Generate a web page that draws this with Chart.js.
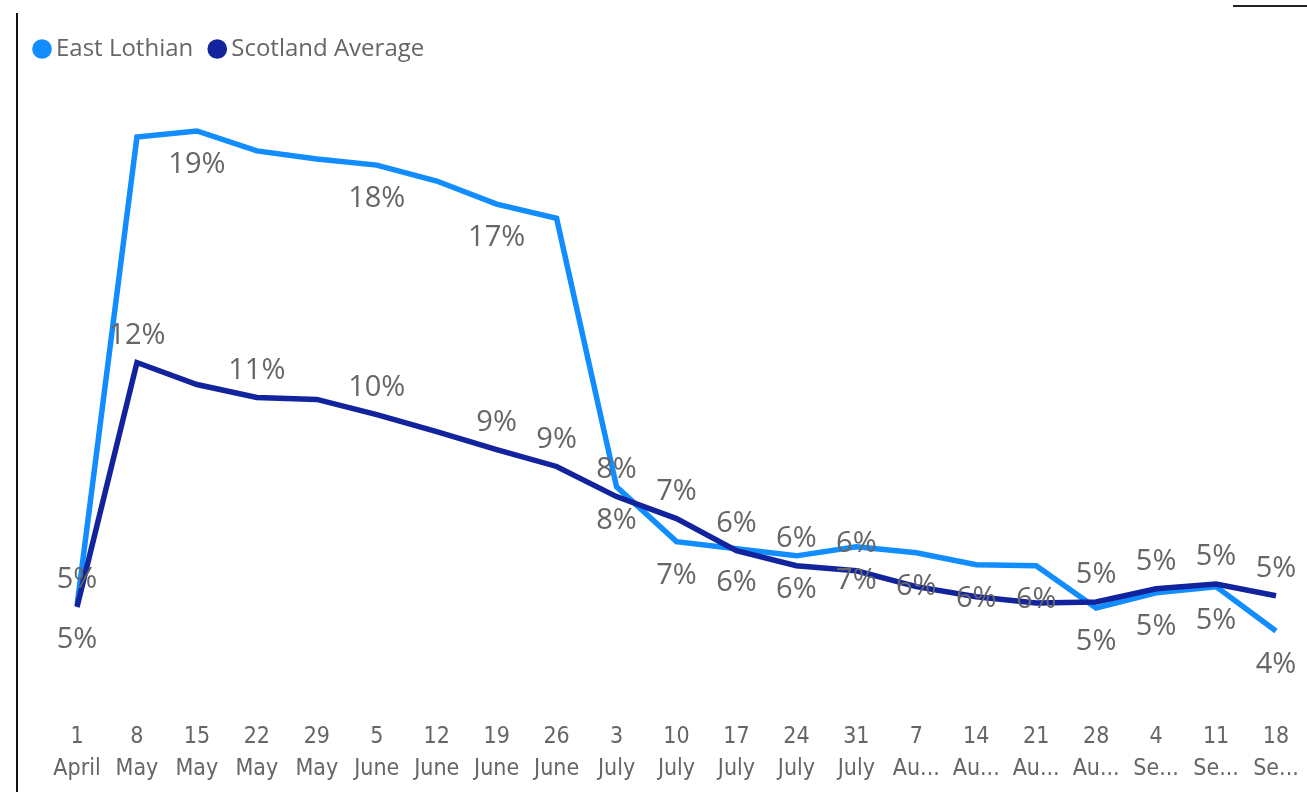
<!DOCTYPE html>
<html>
<head>
<meta charset="utf-8">
<title>East Lothian vs Scotland Average</title>
<script src="https://cdn.jsdelivr.net/npm/chart.js@4.4.1/dist/chart.umd.min.js"></script>
<style>
  html, body { margin: 0; padding: 0; background: #fff; }
  #wrap { position: relative; width: 1307px; height: 792px; overflow: hidden; }
  #frameLeft { position: absolute; left: 16px; top: 13px; width: 2px; height: 779px; background: #111; }
  #frameTop { position: absolute; left: 1233px; top: 5px; width: 74px; height: 2px; background: #222; }
</style>
</head>
<body>
<div id="wrap">
  <canvas id="lineChart" width="1307" height="792"></canvas>
  <div id="frameLeft"></div>
  <div id="frameTop"></div>
</div>
<script>
// Week starting dates (day, month)
const weekLabels = [
  ["1", "April"], ["8", "May"], ["15", "May"], ["22", "May"], ["29", "May"],
  ["5", "June"], ["12", "June"], ["19", "June"], ["26", "June"],
  ["3", "July"], ["10", "July"], ["17", "July"], ["24", "July"], ["31", "July"],
  ["7", "Au..."], ["14", "Au..."], ["21", "Au..."], ["28", "Au..."],
  ["4", "Se..."], ["11", "Se..."], ["18", "Se..."]
];

// Percent values
const eastLothian = [
  4.78, 18.63, 18.81, 18.22, 17.98, 17.80, 17.33, 16.65, 16.23,
  8.30, 6.68, 6.47, 6.26, 6.53, 6.35, 6.00, 5.97, 4.72, 5.17, 5.35, 4.04
];
const scotlandAvg = [
  4.75, 11.97, 11.32, 10.94, 10.88, 10.43, 9.93, 9.40, 8.90,
  8.01, 7.36, 6.41, 5.97, 5.82, 5.35, 5.05, 4.87, 4.90, 5.29, 5.43, 5.08
];

// Which points carry a data label
const eastLabelIdx = [0, 2, 5, 7, 9, 10, 11, 12, 13, 14, 15, 16, 17, 18, 19, 20];
const scotLabelIdx = [0, 1, 3, 5, 7, 8, 9, 10, 11, 12, 13, 17, 18, 19, 20];

const textGrey = "#666666";

// Draws the "xx%" labels under East Lothian and above Scotland
const pointLabels = {
  id: "pointLabels",
  afterDatasetsDraw(chart) {
    const ctx = chart.ctx;
    ctx.save();
    ctx.font = '29px "Open Sans", "Noto Sans", sans-serif';
    ctx.fillStyle = textGrey;
    ctx.textAlign = "center";
    ctx.textBaseline = "middle";
    const sets = [
      { ds: 0, idx: eastLabelIdx, dy: 34 },
      { ds: 1, idx: scotLabelIdx, dy: -27 }
    ];
    sets.forEach(s => {
      const meta = chart.getDatasetMeta(s.ds);
      const values = chart.data.datasets[s.ds].data;
      s.idx.forEach(i => {
        const pt = meta.data[i];
        if (!pt) return;
        ctx.fillText(Math.round(values[i]) + "%", pt.x, pt.y + s.dy);
      });
    });
    ctx.restore();
  }
};

new Chart(document.getElementById("lineChart"), {
  type: "line",
  data: {
    labels: weekLabels,
    datasets: [
      {
        label: "East Lothian",
        data: eastLothian,
        borderColor: "#118DFF",
        backgroundColor: "#118DFF",
        borderWidth: 5.5,
        pointRadius: 0,
        tension: 0,
        order: 1
      },
      {
        label: "Scotland Average",
        data: scotlandAvg,
        borderColor: "#12239E",
        backgroundColor: "#12239E",
        borderWidth: 5.5,
        pointRadius: 0,
        tension: 0,
        order: 0
      }
    ]
  },
  options: {
    responsive: false,
    animation: false,
    layout: { padding: { left: 18, right: 31, top: 15, bottom: 3 } },
    plugins: {
      tooltip: { enabled: false },
      legend: {
        position: "top",
        align: "start",
        labels: {
          usePointStyle: true,
          pointStyle: "circle",
          boxWidth: 4,
          boxHeight: 10,
          padding: 22,
          color: textGrey,
          font: { family: '"Open Sans", "Noto Sans", sans-serif', size: 24 },
          sort: (a, b) => a.datasetIndex - b.datasetIndex
        }
      }
    },
    scales: {
      x: {
        grid: { display: false, drawTicks: false },
        border: { display: false },
        ticks: {
          autoSkip: false,
          maxRotation: 0,
          padding: 4,
          color: textGrey,
          font: { family: '"Liberation Sans Narrow", "DejaVu Sans Condensed", Roboto, sans-serif', size: 23, lineHeight: 1.391 }
        }
      },
      y: {
        min: 1.5,
        max: 20.58,
        grid: { display: false, drawTicks: false },
        border: { display: false },
        ticks: { display: false },
        afterFit(scale) { scale.width = 59; }
      }
    }
  },
  plugins: [pointLabels]
});
</script>
</body>
</html>
